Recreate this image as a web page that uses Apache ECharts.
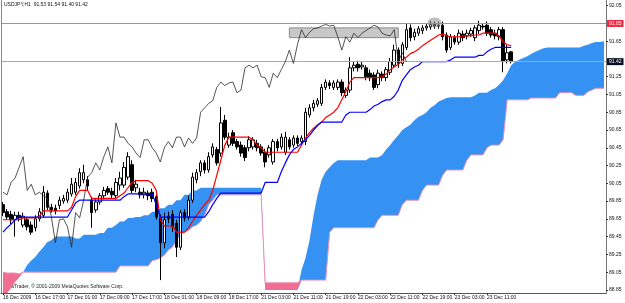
<!DOCTYPE html>
<html><head><meta charset="utf-8">
<script src="https://cdn.jsdelivr.net/npm/echarts@6/dist/echarts.min.js"></script>
<style>html,body{margin:0;padding:0;background:#fff}#c{width:625px;height:303px}</style>
</head><body><div id="c"></div>
<script>
const symbolName = 'USDJPY,H1';
const tickLabels = ['16 Dec 2009','16 Dec 17:00','17 Dec 01:00','17 Dec 09:00','17 Dec 17:00','18 Dec 01:00','18 Dec 09:00','18 Dec 17:00','21 Dec 03:00','21 Dec 11:00','21 Dec 19:00','22 Dec 03:00','22 Dec 11:00','22 Dec 19:00','23 Dec 03:00','23 Dec 11:00'];
const priceTicks = [88.85,89.05,89.25,89.45,89.65,89.85,90.05,90.25,90.45,90.65,90.85,91.05,91.25,91.65,92.05];
const resistance = 91.85;
const lastPrice = 91.42;
// [open, close, low, high]
const candles = [
[89.81,89.72,89.68,89.84],[89.73,89.67,89.64,89.76],[89.70,89.64,89.59,89.74],[89.64,89.69,89.45,89.73],[89.69,89.66,89.62,89.73],
[89.58,89.68,89.55,89.72],[89.64,89.56,89.52,89.67],[89.58,89.50,89.47,89.62],[89.55,89.65,89.51,89.69],[89.65,89.73,89.62,89.77],
[89.69,89.95,89.66,90.02],[89.94,89.78,89.75,89.97],[89.78,89.75,89.72,89.82],[89.77,89.74,89.70,89.81],[89.80,89.86,89.76,89.90],
[89.85,89.88,89.82,89.92],[89.86,89.95,89.83,89.99],[89.93,90.04,89.90,90.11],[89.95,90.06,89.92,90.11],[90.02,90.17,89.99,90.22],
[90.09,90.17,90.05,90.26],[90.09,90.02,89.97,90.13],[89.86,89.72,89.55,89.90],[89.75,89.84,89.72,89.87],[89.84,89.91,89.81,89.94],
[89.91,89.97,89.87,90.01],[89.99,89.95,89.92,90.02],[89.96,89.92,89.88,90.00],[89.91,90.06,89.87,90.11],[90.03,90.11,89.97,90.18],
[90.03,90.23,90.00,90.29],[90.12,90.35,90.09,90.40],[90.26,89.97,89.94,90.31],[90.00,90.04,89.95,90.09],[89.95,89.92,89.88,90.00],
[89.92,89.95,89.88,90.00],[89.94,89.91,89.86,89.97],[89.95,89.88,89.84,89.99],[89.90,89.67,89.64,89.93],[89.67,89.38,88.96,89.70],
[89.38,89.64,89.32,89.72],[89.68,89.65,89.60,89.73],[89.70,89.56,89.50,89.75],[89.60,89.33,89.22,89.64],[89.33,89.72,89.30,89.75],
[89.72,89.66,89.62,89.76],[89.67,89.86,89.64,89.91],[89.86,90.12,89.83,90.17],[90.09,90.17,90.05,90.21],[90.18,90.28,90.13,90.31],
[90.28,90.20,90.16,90.31],[90.20,90.35,90.17,90.40],[90.37,90.46,90.34,90.50],[90.43,90.28,90.25,90.46],[90.39,90.73,90.35,90.91],
[90.76,90.57,90.54,90.82],[90.48,90.57,90.45,90.62],[90.62,90.50,90.47,90.65],[90.52,90.46,90.43,90.55],[90.48,90.39,90.35,90.52],
[90.45,90.34,90.30,90.48],[90.45,90.54,90.41,90.58],[90.46,90.54,90.43,90.57],[90.50,90.45,90.41,90.54],[90.46,90.39,90.36,90.49],
[90.40,90.29,90.23,90.44],[90.37,90.45,90.34,90.48],[90.29,90.52,90.26,90.55],[90.52,90.45,90.41,90.55],[90.46,90.57,90.43,90.61],
[90.40,90.57,90.37,90.63],[90.54,90.46,90.43,90.57],[90.48,90.56,90.45,90.59],[90.56,90.50,90.47,90.59],[90.52,90.56,90.48,90.59],
[90.52,90.85,90.48,90.90],[90.82,90.90,90.79,90.94],[90.90,90.95,90.86,90.99],[90.94,90.98,90.91,91.01],[90.95,91.13,90.92,91.17],
[91.13,91.19,91.10,91.22],[91.18,91.15,91.11,91.21],[91.13,91.18,91.10,91.21],[91.13,91.19,91.10,91.22],[91.19,91.07,91.03,91.22],
[91.04,91.10,91.01,91.13],[91.10,91.35,91.07,91.47],[91.35,91.38,91.31,91.42],[91.39,91.35,91.31,91.43],[91.36,91.38,91.33,91.42],
[91.35,91.25,91.21,91.38],[91.29,91.24,91.20,91.33],[91.27,91.13,91.10,91.30],[91.16,91.29,91.12,91.33],[91.28,91.24,91.20,91.31],
[91.24,91.33,91.20,91.36],[91.30,91.42,91.27,91.46],[91.38,91.55,91.35,91.61],[91.55,91.40,91.35,91.58],[91.40,91.61,91.37,91.64],
[91.58,91.78,91.55,91.85],[91.80,91.69,91.65,91.84],[91.70,91.75,91.66,91.79],[91.74,91.79,91.71,91.82],[91.77,91.80,91.73,91.83],
[91.80,91.82,91.77,91.85],[91.81,91.84,91.78,91.88],[91.84,91.82,91.79,91.87],[91.82,91.83,91.79,91.87],[91.83,91.70,91.66,91.87],
[91.72,91.55,91.52,91.75],[91.58,91.70,91.55,91.73],[91.69,91.64,91.61,91.72],[91.64,91.74,91.61,91.78],[91.73,91.69,91.65,91.77],
[91.71,91.74,91.67,91.78],[91.73,91.77,91.70,91.80],[91.69,91.80,91.65,91.83],[91.77,91.83,91.73,91.88],[91.82,91.81,91.78,91.85],
[91.83,91.74,91.71,91.87],[91.78,91.72,91.69,91.81],[91.74,91.71,91.67,91.78],[91.70,91.78,91.66,91.81],[91.78,91.42,91.30,91.81],
[91.44,91.52,91.40,91.61],[91.53,91.42,91.40,91.54]
];
const tenkan = [
89.64,89.64,89.64,89.64,89.64,89.66,89.66,89.66,89.66,89.68,
89.74,89.74,89.74,89.74,89.74,89.74,89.74,89.78,89.90,89.97,
89.97,89.97,89.88,89.88,89.88,89.88,89.88,89.88,89.88,89.91,
89.94,90.00,90.06,90.08,90.08,90.08,90.08,90.05,89.97,89.64,
89.57,89.57,89.57,89.50,89.50,89.50,89.55,89.62,89.69,89.75,
89.81,89.86,89.97,90.14,90.31,90.48,90.57,90.57,90.57,90.57,
90.57,90.57,90.54,90.48,90.45,90.40,90.40,90.40,90.40,90.40,
90.40,90.40,90.40,90.40,90.48,90.56,90.62,90.67,90.71,90.74,
90.79,90.82,90.85,90.90,90.99,91.08,91.19,91.24,91.24,91.24,
91.24,91.24,91.24,91.24,91.25,91.28,91.33,91.36,91.39,91.44,
91.47,91.51,91.53,91.56,91.60,91.63,91.66,91.69,91.72,91.73,
91.71,91.70,91.70,91.70,91.71,91.71,91.71,91.72,91.72,91.74,
91.74,91.74,91.74,91.71,91.64,91.61,91.60];
const kijun = [
89.50,89.55,89.59,89.64,89.67,89.67,89.67,89.67,89.67,89.67,
89.67,89.67,89.67,89.67,89.67,89.67,89.67,89.75,89.83,89.86,
89.86,89.86,89.86,89.86,89.86,89.86,89.86,89.86,89.86,89.86,
89.90,89.93,89.93,89.93,89.93,89.93,89.93,89.93,89.81,89.67,
89.67,89.67,89.67,89.67,89.67,89.67,89.67,89.67,89.67,89.67,
89.67,89.73,89.81,89.88,89.94,89.94,89.94,89.94,89.94,89.94,
89.94,89.94,89.94,89.94,89.94,90.06,90.06,90.06,90.06,90.18,
90.28,90.37,90.43,90.46,90.50,90.54,90.59,90.65,90.70,90.74,
90.74,90.74,90.74,90.74,90.74,90.82,90.85,90.85,90.85,90.85,
90.85,90.88,90.92,90.94,90.97,90.99,90.99,91.03,91.10,91.21,
91.27,91.33,91.36,91.38,91.42,91.42,91.42,91.42,91.42,91.42,
91.42,91.44,91.47,91.47,91.47,91.47,91.47,91.47,91.49,91.49,
91.53,91.56,91.58,91.58,91.58,91.58,91.58];
const spanA = [
88.76,88.81,88.87,88.94,88.99,89.05,89.13,89.18,89.22,89.28,
89.33,89.39,89.41,89.45,89.45,89.45,89.45,89.45,89.43,89.43,
89.47,89.47,89.47,89.47,89.49,89.49,89.55,89.55,89.58,89.62,
89.62,89.66,89.66,89.67,89.67,89.69,89.69,89.73,89.73,89.77,
89.77,89.81,89.81,89.86,89.86,89.92,89.92,89.97,89.97,90.00,
90.00,90.00,90.00,90.00,90.00,90.00,90.00,90.00,90.00,90.00,
90.00,90.00,90.00,90.00,90.00,88.85,88.85,88.85,88.85,88.85,
88.85,88.85,88.85,88.85,89.07,89.21,89.41,89.69,89.92,90.09,
90.18,90.23,90.28,90.31,90.31,90.31,90.31,90.31,90.31,90.31,
90.31,90.34,90.34,90.34,90.37,90.43,90.48,90.54,90.59,90.65,
90.68,90.71,90.76,90.80,90.82,90.85,90.90,90.93,90.97,90.99,
91.01,91.02,91.02,91.02,91.02,91.02,91.02,91.04,91.07,91.07,
91.07,91.10,91.12,91.16,91.21,91.29,91.38,91.42,91.44,91.46,
91.48,91.51,91.53,91.55,91.57,91.58,91.58,91.58,91.58,91.58,
91.58,91.58,91.58,91.58,91.60,91.61,91.63,91.64,91.64,91.65];
const spanB = [
89.05,89.04,89.04,89.04,89.03,89.05,89.05,89.05,89.05,89.05,
89.05,89.05,89.05,89.05,89.05,89.05,89.05,89.05,89.05,89.05,
89.05,89.05,89.05,89.05,89.05,89.05,89.05,89.05,89.05,89.12,
89.12,89.12,89.12,89.12,89.12,89.12,89.12,89.18,89.19,89.21,
89.24,89.30,89.33,89.41,89.47,89.50,89.52,89.56,89.58,89.62,
89.69,89.81,89.86,89.92,89.92,89.92,89.92,89.92,89.92,89.92,
89.92,89.92,89.92,89.92,89.92,88.93,88.93,88.93,88.93,88.93,
88.93,88.93,88.93,88.93,88.96,88.96,88.96,88.96,88.96,88.96,
88.96,89.50,89.55,89.55,89.55,89.55,89.55,89.55,89.55,89.55,
89.55,89.55,89.55,89.64,89.69,89.69,89.69,89.69,89.69,89.81,
89.86,89.86,89.86,89.86,89.97,90.03,90.03,90.03,90.03,90.14,
90.20,90.20,90.20,90.20,90.20,90.31,90.37,90.37,90.37,90.37,
90.45,90.48,90.48,90.48,90.54,90.99,90.99,90.99,90.99,90.99,
90.99,91.01,91.01,91.01,91.01,91.01,91.01,91.01,91.07,91.07,
91.07,91.07,91.04,91.04,91.04,91.08,91.10,91.12,91.12,91.12];

const chikouShift = 26;
const N = spanA.length;
const cats = Array.from({length: N}, (_, i) => String(i));
const closes = candles.map(c => c[1]);
const chikou = closes.slice(chikouShift);
const cloudBase = spanA.map((a, i) => Math.min(a, spanB[i]));
const upKumo = spanA.map((a, i) => a >= spanB[i] ? +(a - spanB[i]).toFixed(4) : 0);
const downKumo = spanA.map((a, i) => spanB[i] > a ? +(spanB[i] - a).toFixed(4) : 0);
const last = candles[candles.length - 1];
const FONT = 'Liberation Sans, Arial, sans-serif';
const showTick = (i) => i % 8 === 0 && i / 8 < tickLabels.length;

const chart = echarts.init(document.getElementById('c'), null, {renderer: 'canvas'});
chart.setOption({
  animation: false,
  backgroundColor: '#ffffff',
  grid: {left: 0, right: 19, top: 0, bottom: 10},
  xAxis: {
    type: 'category', data: cats, boundaryGap: true,
    axisLine: {lineStyle: {color: '#555', width: 1}},
    axisTick: {show: true, interval: showTick, length: 2, alignWithLabel: true, lineStyle: {color: '#333'}},
    axisLabel: {interval: showTick, formatter: (v, i) => tickLabels[i / 8], fontSize: 5, color: '#111',
      align: 'left', margin: 2, fontFamily: FONT},
    splitLine: {show: false}
  },
  yAxis: {
    type: 'value', position: 'right', min: 88.815, max: 92.114,
    axisLine: {show: true, lineStyle: {color: '#777'}},
    axisTick: {show: true, customValues: priceTicks, length: 2, lineStyle: {color: '#333'}},
    axisLabel: {customValues: priceTicks, formatter: v => v.toFixed(2), fontSize: 5, color: '#111', margin: 3, fontFamily: FONT},
    splitLine: {show: false}
  },
  graphic: [
    {type: 'line', shape: {x1: 1.5, y1: 0, x2: 1.5, y2: 293}, style: {stroke: '#888', lineWidth: 1}, z: 100},
    {type: 'text', left: 4, top: 2, style: {text: symbolName + '  ' + [last[0], last[3], last[2], last[1]].map(v => v.toFixed(2)).join(' '),
      fontSize: 5, fill: '#111', fontFamily: FONT}, z: 100},
    {type: 'text', left: 3, top: 284, style: {text: 'MetaTrader, \u00a9 2001-2009 MetaQuotes Software Corp.', fontSize: 5, fill: '#222', fontFamily: FONT}, z: -1}
  ],
  series: [
    {type: 'line', stack: 'up', data: cloudBase, symbol: 'none', lineStyle: {width: 0}, silent: true, z: 1},
    {type: 'line', stack: 'up', data: upKumo, symbol: 'none', lineStyle: {width: 0}, areaStyle: {color: '#3592f2', opacity: 1}, silent: true, z: 1},
    {type: 'line', stack: 'dn', data: cloudBase, symbol: 'none', lineStyle: {width: 0}, silent: true, z: 1},
    {type: 'line', stack: 'dn', data: downKumo, symbol: 'none', lineStyle: {width: 0}, areaStyle: {color: '#f06e92', opacity: 1}, silent: true, z: 1},
    {type: 'line', data: spanB, symbol: 'none', lineStyle: {color: '#e890b4', width: 1}, silent: true, z: 2},
    {type: 'line', data: [], symbol: 'none', silent: true, z: 2,
      markArea: {silent: true, itemStyle: {color: '#c8c8c8', borderColor: '#8a8a8a', borderWidth: 1},
        data: [[{xAxis: '71', yAxis: 91.80}, {xAxis: '98', yAxis: 91.69}]]},
      markLine: {silent: true, symbol: 'none', animation: false,
        data: [
          {yAxis: resistance, lineStyle: {color: '#ff6b7d', width: 1, type: 'solid'},
            label: {position: 'end', distance: 1, formatter: () => resistance.toFixed(2), fontSize: 5, color: '#fff', backgroundColor: '#f02840', padding: [1, 2], fontFamily: FONT}},
          {yAxis: lastPrice, lineStyle: {color: '#a3a9b8', width: 1, type: 'solid'},
            label: {position: 'end', distance: 1, formatter: () => lastPrice.toFixed(2), fontSize: 5, color: '#fff', backgroundColor: '#0a1020', padding: [1, 2], fontFamily: FONT}}
        ]}},
    {type: 'candlestick', data: candles, barWidth: 3, silent: true, z: 3,
      itemStyle: {color: '#ffffff', color0: '#000000', borderColor: '#000000', borderColor0: '#000000', borderWidth: 1},
      markPoint: {silent: true, symbol: 'circle', symbolSize: [14, 10], label: {show: false},
        itemStyle: {color: 'rgba(140,140,140,0.55)'},
        data: [{coord: ['107', 91.86]}]}},
    {type: 'line', data: tenkan, symbol: 'none', lineStyle: {color: '#ff0000', width: 1.2}, silent: true, z: 4},
    {type: 'line', data: kijun, symbol: 'none', lineStyle: {color: '#0000ff', width: 1.2}, silent: true, z: 4},
    {type: 'line', data: chikou, symbol: 'none', lineStyle: {color: '#2a2a2a', width: 0.8}, silent: true, z: 5}
  ]
});
</script>
</body></html>
